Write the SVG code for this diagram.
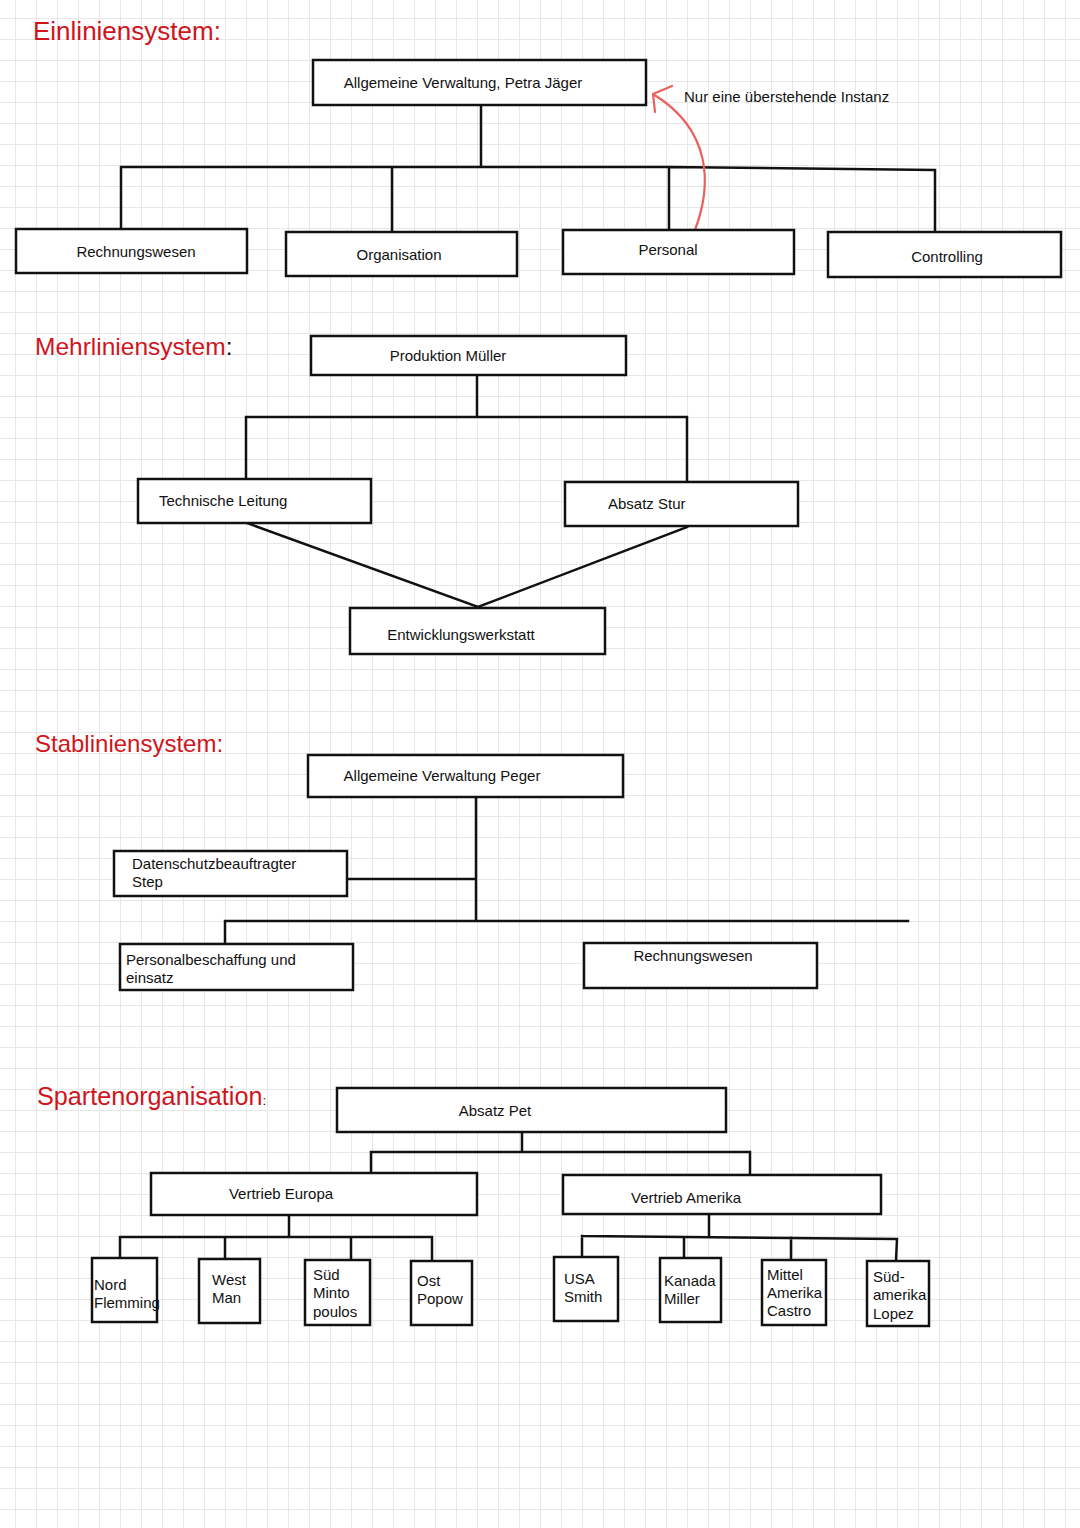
<svg xmlns="http://www.w3.org/2000/svg" width="1080" height="1528" viewBox="0 0 1080 1528">
<defs>
<pattern id="grid" x="15" y="18" width="21" height="21" patternUnits="userSpaceOnUse">
<rect x="0" y="0" width="21" height="1" fill="#e7e7e7"/>
<rect x="0" y="0" width="1" height="21" fill="#e7e7e7"/>
</pattern>
<style>
.box{fill:#fff;stroke:#111;stroke-width:2.5}
.t{font-family:"Liberation Sans",Arial,sans-serif;font-size:15px;fill:#111}
.c{text-anchor:middle}
.title{font-family:"Liberation Sans",Arial,sans-serif;font-size:26px;fill:#d0141c}
.ln{fill:none;stroke:#111;stroke-width:2.5;stroke-linecap:square}
.red{fill:none;stroke:#e8615c;stroke-width:2.2;stroke-linecap:round;stroke-linejoin:round}
</style>
</defs>
<rect width="1080" height="1528" fill="#fff"/>
<rect width="1080" height="1528" fill="url(#grid)"/>

<text class="title" x="33" y="40">Einliniensystem:</text>
<text class="title" x="35" y="355" style="font-size:24.5px">Mehrliniensystem<tspan fill="#111">:</tspan></text>
<text class="title" x="35" y="752" style="font-size:24px">Stabliniensystem:</text>
<text class="title" x="37" y="1105" style="font-size:25.2px">Spartenorganisation<tspan style="font-size:13px" fill="#111">:</tspan></text>

<g id="connectors">
<path class="ln" d="M481 105 V167 M121 167 H669 L935 170 M121 167 V229 M392 169 V232 M669 168 V230 M935 170 V233"/>
<path class="ln" d="M477 375 V416 M246 417 H687 M246 417 V479 M687 417 V482"/>
<path class="ln" d="M247 523 L478 607 L687 527"/>
<path class="ln" d="M476 797 V921 M347 879 H476 M225 921 H908 M225 921 V944"/>
<path class="ln" d="M522 1132 V1152 M371 1152 H750 M371 1152 V1173 M750 1152 V1175"/>
<path class="ln" d="M289 1215 V1237 M120 1237 H432 M120 1237 V1258 M225 1237 V1259 M351 1237 V1260 M432 1237 V1261"/>
<path class="ln" d="M709 1214 V1237 M582 1236 L897 1239 M582 1236 V1258 M684 1237 V1258 M791 1238 V1260 M897 1239 L896 1261"/>
<path class="red" d="M695 230 C712 185 712 130 653 94 M655 112 L653 94 L672 86"/>
<text class="t" x="684" y="102">Nur eine überstehende Instanz</text>
</g>

<g id="n_allg"><rect class="box" x="313" y="60" width="333" height="45"/><text class="t c" x="463" y="88">Allgemeine Verwaltung, Petra Jäger</text></g>
<g id="n_rw1"><rect class="box" x="16" y="229" width="231" height="44"/><text class="t c" x="136" y="257">Rechnungswesen</text></g>
<g id="n_org"><rect class="box" x="286" y="232" width="231" height="44"/><text class="t c" x="399" y="260">Organisation</text></g>
<g id="n_pers"><rect class="box" x="563" y="230" width="231" height="44"/><text class="t c" x="668" y="255">Personal</text></g>
<g id="n_contr"><rect class="box" x="828" y="232" width="233" height="45"/><text class="t c" x="947" y="262">Controlling</text></g>

<g id="n_prod"><rect class="box" x="311" y="336" width="315" height="39"/><text class="t c" x="448" y="361">Produktion Müller</text></g>
<g id="n_tech"><rect class="box" x="138" y="479" width="233" height="44"/><text class="t" x="159" y="506">Technische Leitung</text></g>
<g id="n_absstur"><rect class="box" x="565" y="482" width="233" height="44"/><text class="t" x="608" y="509">Absatz Stur</text></g>
<g id="n_entw"><rect class="box" x="350" y="608" width="255" height="46"/><text class="t c" x="461" y="640">Entwicklungswerkstatt</text></g>

<g id="n_peger"><rect class="box" x="308" y="755" width="315" height="42"/><text class="t c" x="442" y="781">Allgemeine Verwaltung Peger</text></g>
<g id="n_daten"><rect class="box" x="114" y="851" width="233" height="45"/><text class="t" x="132" y="869">Datenschutzbeauftragter</text><text class="t" x="132" y="887">Step</text></g>
<g id="n_pb"><rect class="box" x="120" y="944" width="233" height="46"/><text class="t" x="126" y="965">Personalbeschaffung und</text><text class="t" x="126" y="983">einsatz</text></g>
<g id="n_rw2"><rect class="box" x="584" y="943" width="233" height="45"/><text class="t c" x="693" y="961">Rechnungswesen</text></g>

<g id="n_pet"><rect class="box" x="337" y="1088" width="389" height="44"/><text class="t c" x="495" y="1116">Absatz Pet</text></g>
<g id="n_eur"><rect class="box" x="151" y="1173" width="326" height="42"/><text class="t c" x="281" y="1199">Vertrieb Europa</text></g>
<g id="n_am"><rect class="box" x="563" y="1175" width="318" height="39"/><text class="t c" x="686" y="1203">Vertrieb Amerika</text></g>

<g id="n_nord"><rect class="box" x="92" y="1258" width="65" height="64"/><text class="t" x="94" y="1290">Nord</text><text class="t" x="94" y="1308">Flemming</text></g>
<g id="n_west"><rect class="box" x="199" y="1259" width="61" height="64"/><text class="t" x="212" y="1285">West</text><text class="t" x="212" y="1303">Man</text></g>
<g id="n_sued"><rect class="box" x="305" y="1260" width="65" height="65"/><text class="t" x="313" y="1280">Süd</text><text class="t" x="313" y="1298">Minto</text><text class="t" x="313" y="1317">poulos</text></g>
<g id="n_ost"><rect class="box" x="411" y="1261" width="61" height="64"/><text class="t" x="417" y="1286">Ost</text><text class="t" x="417" y="1304">Popow</text></g>
<g id="n_usa"><rect class="box" x="554" y="1257" width="64" height="64"/><text class="t" x="564" y="1284">USA</text><text class="t" x="564" y="1302">Smith</text></g>
<g id="n_kan"><rect class="box" x="660" y="1258" width="61" height="64"/><text class="t" x="664" y="1286">Kanada</text><text class="t" x="664" y="1304">Miller</text></g>
<g id="n_mit"><rect class="box" x="762" y="1260" width="64" height="65"/><text class="t" x="767" y="1280">Mittel</text><text class="t" x="767" y="1298">Amerika</text><text class="t" x="767" y="1316">Castro</text></g>
<g id="n_sam"><rect class="box" x="867" y="1261" width="62" height="65"/><text class="t" x="873" y="1282">Süd-</text><text class="t" x="873" y="1300">amerika</text><text class="t" x="873" y="1319">Lopez</text></g>
</svg>
